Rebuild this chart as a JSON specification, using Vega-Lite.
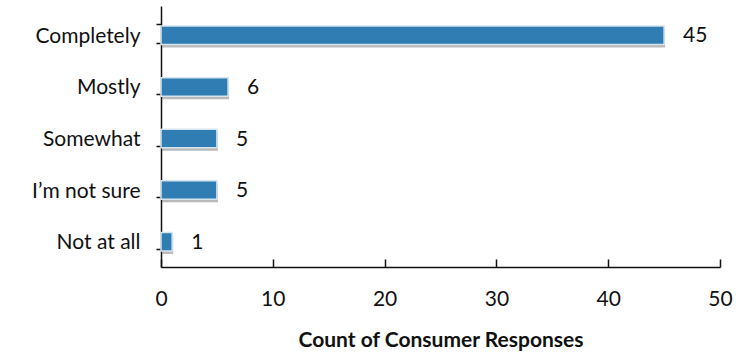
{
  "$schema": "https://vega.github.io/schema/vega-lite/v6.json",
  "width": 559,
  "height": 261,
  "autosize": "none",
  "padding": {"left": 161, "top": 6, "right": 32, "bottom": 89},
  "background": "white",
  "config": {
    "view": {"stroke": null},
    "font": "Lato",
    "axis": {"domainColor": "#111", "tickColor": "#111", "labelColor": "#111", "titleColor": "#111", "grid": false}
  },
  "data": {
    "values": [
      {"response": "Completely", "count": 45},
      {"response": "Mostly", "count": 6},
      {"response": "Somewhat", "count": 5},
      {"response": "I’m not sure", "count": 5},
      {"response": "Not at all", "count": 1}
    ]
  },
  "encoding": {
    "y": {
      "field": "response",
      "type": "nominal",
      "sort": null,
      "scale": {"paddingInner": 0.64, "paddingOuter": 0.35},
      "axis": {
        "title": null,
        "tickBand": "extent",
        "tickSize": 5,
        "tickWidth": 1.5,
        "domainWidth": 1.5,
        "labelPadding": 16,
        "labelOffset": 3,
        "labelFontSize": 21,
        "labelFont": "Lato"
      }
    },
    "x": {
      "field": "count",
      "type": "quantitative",
      "scale": {"domain": [0, 50]},
      "axis": {
        "title": "Count of Consumer Responses",
        "values": [0, 10, 20, 30, 40, 50],
        "labelFlush": false,
        "tickSize": -8,
        "tickWidth": 1.5,
        "domainWidth": 1.5,
        "labelPadding": 29,
        "labelFontSize": 21,
        "labelFontWeight": "normal",
        "titleFontSize": 21,
        "titleFontWeight": "bold",
        "titlePadding": 20
      }
    }
  },
  "layer": [
    {
      "mark": {"type": "bar", "color": "#7f7f7f", "opacity": 0.55, "yOffset": 5, "xOffset": 1}
    },
    {
      "mark": {"type": "bar", "color": "#2f7db2", "stroke": "#d5e4ef", "strokeWidth": 1.5, "yOffset": 2}
    },
    {
      "mark": {"type": "text", "align": "left", "dx": 19, "dy": 3, "fontSize": 21, "color": "#111"},
      "encoding": {"text": {"field": "count", "type": "quantitative"}}
    }
  ]
}
